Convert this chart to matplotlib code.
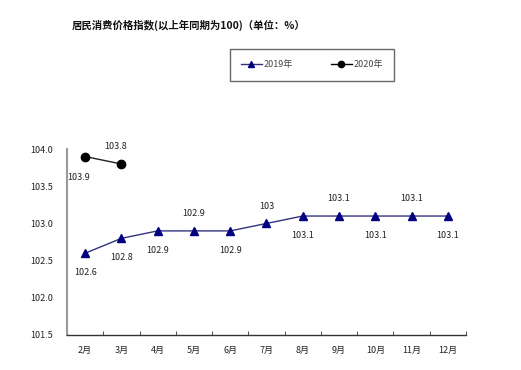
import matplotlib
matplotlib.use("Agg")
import matplotlib.pyplot as plt
from matplotlib.lines import Line2D

plt.rcParams['font.family'] = ['Noto Sans CJK SC', 'DejaVu Sans']

months = ["2月", "3月", "4月", "5月", "6月", "7月", "8月", "9月", "10月", "11月", "12月"]
cpi_2019 = [102.6, 102.8, 102.9, 102.9, 102.9, 103.0, 103.1, 103.1, 103.1, 103.1, 103.1]
labels_2019 = ["102.6", "102.8", "102.9", "102.9", "102.9", "103", "103.1", "103.1", "103.1", "103.1", "103.1"]
cpi_2020 = [103.9, 103.8]
labels_2020 = ["103.9", "103.8"]
yticks = [101.5, 102.0, 102.5, 103.0, 103.5, 104.0]

fig = plt.figure(figsize=(5.21, 3.70), dpi=100)
ax = fig.add_axes([0.1286, 0.0946, 0.7658, 0.5024])

x19 = list(range(len(cpi_2019)))
x20 = list(range(len(cpi_2020)))
ax.plot(x19, cpi_2019, color="#33337f", lw=1.0, marker="^", ms=6,
        mfc="#000080", mec="#000080", zorder=3)
ax.plot(x20, cpi_2020, color="#222222", lw=1.0, marker="o", ms=6,
        mfc="black", mec="black", zorder=3)

# data labels: position above or below
pos19 = ["below", "below", "below", "above", "below", "above", "below", "above", "below", "above", "below"]
for i, (v, lab, p) in enumerate(zip(cpi_2019, labels_2019, pos19)):
    dy = 12.5 if p == "above" else -14
    ax.annotate(lab, (i, v), xytext=(0, dy), textcoords="offset points",
                ha="center", va="center", fontsize=6.5, color="#222222")
pos20 = [("below", -5), ("above", -4)]
for i, (v, lab) in enumerate(zip(cpi_2020, labels_2020)):
    p, dx = pos20[i]
    dy = 12.5 if p == "above" else -15
    ax.annotate(lab, (i, v), xytext=(dx, dy), textcoords="offset points",
                ha="center", va="center", fontsize=6.5, color="#222222")

ax.set_xlim(-0.5, len(months) - 0.5)
ax.set_ylim(101.5, 104.0)
ax.set_yticks(yticks)
ax.set_yticklabels([f"{t:.1f}" for t in yticks], fontsize=6.5, color="#222222")
ax.set_xticks(x19)
ax.set_xticklabels(months, fontsize=6.5, color="#222222")
ax.tick_params(axis="x", length=0, pad=8)
ax.tick_params(axis="y", length=0, pad=10)
# minor ticks between categories pointing up
ax.set_xticks([i + 0.5 for i in range(-1, len(months))], minor=True)
ax.tick_params(axis="x", which="minor", direction="in", length=3, color="#333333")

for s in ["top", "right"]:
    ax.spines[s].set_visible(False)
ax.spines["left"].set_color("#999999")
ax.spines["left"].set_linewidth(1.5)
ax.spines["bottom"].set_color("#333333")
ax.spines["bottom"].set_linewidth(1.0)

fig.text(72 / 521, 1 - 25 / 370, "居民消费价格指数(以上年同期为100)（单位：%）",
         fontsize=7.5, fontweight="bold", ha="left", va="center", color="#111111")

handles = [Line2D([0], [0], color="#33337f", lw=1.0, marker="^", ms=4.5, mfc="#000080", mec="#000080"),
           Line2D([0], [0], color="black", lw=1.0, marker="o", ms=4.5, mfc="black", mec="black")]
leg = fig.legend(handles, ["2019年", "2020年"], loc="center",
                 bbox_to_anchor=(312 / 521, 1 - 65 / 370), ncol=2, fontsize=6.5,
                 frameon=True, fancybox=False, edgecolor="#444444",
                 handlelength=2.3, columnspacing=4.2, borderpad=1.25, handletextpad=0.2,
                 borderaxespad=0)
leg.get_frame().set_linewidth(1.0)
for t in leg.get_texts():
    t.set_color("#444444")

fig.savefig("out.png", dpi=100)
